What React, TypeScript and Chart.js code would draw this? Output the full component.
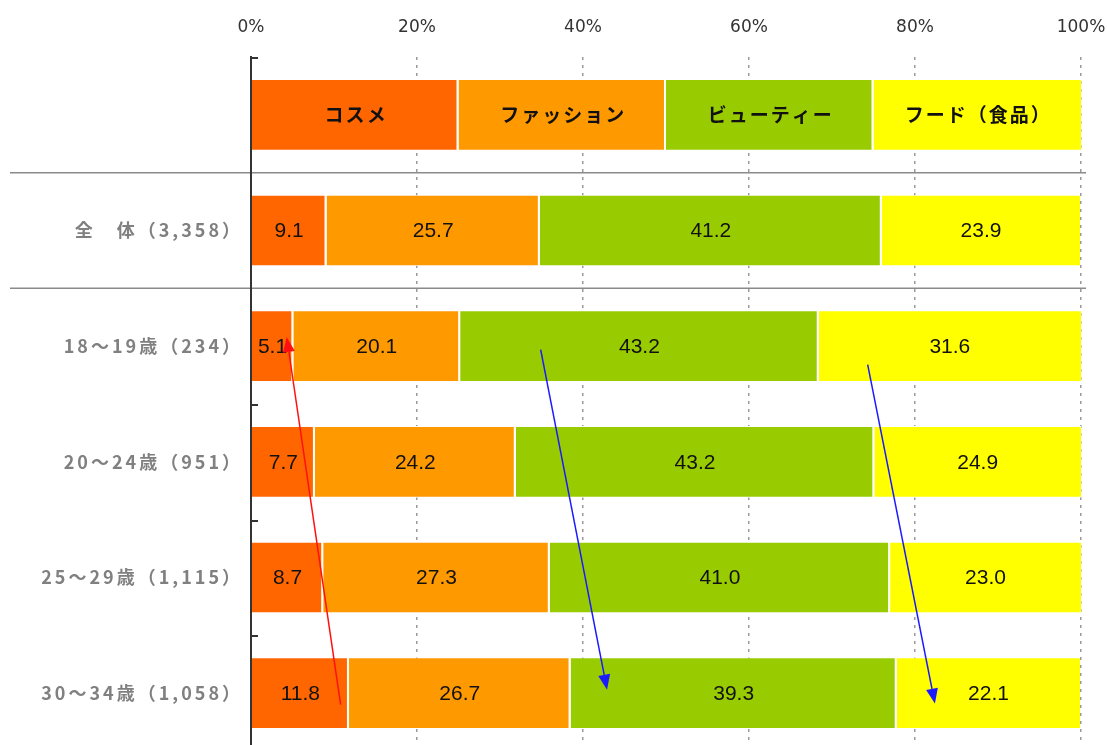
import React, { useEffect, useRef } from "react";
import { Chart, registerables } from "chart.js";

Chart.register(...registerables);

const categories = ["", "全　体（3,358）", "18～19歳（234）", "20～24歳（951）", "25～29歳（1,115）", "30～34歳（1,058）"];
const seriesNames = ["コスメ", "ファッション", "ビューティー", "フード（食品）"];
const seriesColors = ["#FF6600", "#FF9900", "#99CC00", "#FFFF00"];
const cosme = [25, 9.1, 5.1, 7.7, 8.7, 11.8];
const fashion = [25, 25.7, 20.1, 24.2, 27.3, 26.7];
const beauty = [25, 41.2, 43.2, 43.2, 41.0, 39.3];
const food = [25, 23.9, 31.6, 24.9, 23.0, 22.1];
const xTickStep = 20;
// arrows in data units: [percent, category index]
const arrows = [
  { color: "#ff1010", from: [10.8, 5.1], to: [4.3, 1.92] },
  { color: "#1a1aff", from: [34.9, 2.03], to: [42.9, 4.97] },
  { color: "#1a1aff", from: [74.3, 2.16], to: [82.4, 5.09] },
];
const separatorAfter = [0, 1];
const tickBoundaries = [-0.5, 2.5, 3.5, 4.5];

const overlayPlugin = {
  id: "overlay",
  afterDatasetsDraw(chart: any) {
    const ctx = chart.ctx;
    const xs = chart.scales.x;
    const ys = chart.scales.y;
    const area = chart.chartArea;
    ctx.save();
    // bar labels
    chart.data.datasets.forEach((ds: any, di: number) => {
      const meta = chart.getDatasetMeta(di);
      meta.data.forEach((bar: any, i: number) => {
        const cx = (bar.x + bar.base) / 2;
        const cy = bar.y;
        ctx.textAlign = "center";
        ctx.textBaseline = "middle";
        if (i === 0) {
          ctx.font = 'bold 19px "Noto Sans CJK JP"';
          (ctx as any).letterSpacing = "2px";
          ctx.fillStyle = "#111";
          ctx.fillText(seriesNames[di], cx + 1, cy);
        } else {
          ctx.font = '21px "Liberation Sans"';
          (ctx as any).letterSpacing = "0px";
          ctx.fillStyle = "#111";
          ctx.fillText(Number(ds.data[i]).toFixed(1), cx, cy + 1);
        }
      });
    });
    (ctx as any).letterSpacing = "0px";
    // y labels
    ctx.font = 'bold 18px "Noto Sans CJK JP"';
    (ctx as any).letterSpacing = "3px";
    ctx.fillStyle = "#808080";
    ctx.textAlign = "right";
    ctx.textBaseline = "middle";
    categories.forEach((c, i) => {
      if (c) ctx.fillText(c, area.left - 8, ys.getPixelForValue(i));
    });
    (ctx as any).letterSpacing = "0px";
    // separators
    ctx.strokeStyle = "#8a8a8a";
    ctx.lineWidth = 1.5;
    separatorAfter.forEach((i) => {
      const y = (ys.getPixelForValue(i) + ys.getPixelForValue(i + 1)) / 2;
      ctx.beginPath();
      ctx.moveTo(10, y);
      ctx.lineTo(area.right + 5, y);
      ctx.stroke();
    });
    // inner ticks
    ctx.strokeStyle = "#333";
    ctx.lineWidth = 2;
    tickBoundaries.forEach((b) => {
      const y = Math.round(ys.getPixelForValue(b)) + 1;
      ctx.beginPath();
      ctx.moveTo(area.left, y);
      ctx.lineTo(area.left + 7, y);
      ctx.stroke();
    });
    // arrows
    arrows.forEach((a) => {
      const x1 = xs.getPixelForValue(a.from[0]);
      const y1 = ys.getPixelForValue(a.from[1]);
      const x2 = xs.getPixelForValue(a.to[0]);
      const y2 = ys.getPixelForValue(a.to[1]);
      const ang = Math.atan2(y2 - y1, x2 - x1);
      const len = 15;
      const hw = 6;
      const bx = x2 - len * Math.cos(ang);
      const by = y2 - len * Math.sin(ang);
      ctx.strokeStyle = a.color;
      ctx.fillStyle = a.color;
      ctx.lineWidth = 1.5;
      ctx.beginPath();
      ctx.moveTo(x1, y1);
      ctx.lineTo(bx, by);
      ctx.stroke();
      ctx.beginPath();
      ctx.moveTo(x2, y2);
      ctx.lineTo(bx + hw * Math.sin(ang), by - hw * Math.cos(ang));
      ctx.lineTo(bx - hw * Math.sin(ang), by + hw * Math.cos(ang));
      ctx.closePath();
      ctx.fill();
    });
    ctx.restore();
  },
};

export default function App() {
  const ref = useRef<HTMLCanvasElement | null>(null);
  useEffect(() => {
    document.body.style.margin = "0";
    const seriesData = [cosme, fashion, beauty, food];
    const chart = new Chart(ref.current as HTMLCanvasElement, {
      type: "bar",
      data: {
        labels: categories,
        datasets: seriesData.map((d, i) => ({
          label: seriesNames[i],
          data: d,
          backgroundColor: seriesColors[i],
          borderColor: "#ffffff",
          borderWidth: { left: 0, right: i === seriesData.length - 1 ? 0 : 2, top: 1, bottom: 1 },
          borderSkipped: false,
          barPercentage: 0.62,
          categoryPercentage: 1,
        })),
      },
      options: {
        indexAxis: "y",
        animation: false,
        responsive: false,
        layout: { padding: { left: 0, right: 26, top: 0, bottom: 0 } },
        plugins: { legend: { display: false }, tooltip: { enabled: false } },
        scales: {
          x: {
            position: "top",
            stacked: true,
            min: 0,
            max: 100,
            afterFit: (s: any) => {
              s.height = 57;
              s.paddingLeft = 0;
              s.paddingRight = 0;
            },
            ticks: {
              stepSize: xTickStep,
              callback: (v: any) => v + "%",
              color: "#333",
              font: { family: "DejaVu Sans", size: 17 },
              padding: 19,
            },
            grid: { color: "#999", drawTicks: false, lineWidth: 1.5 },
            border: { display: false, dash: [3, 5] },
          },
          y: {
            stacked: true,
            afterFit: (s: any) => {
              s.width = 251;
            },
            ticks: { display: false },
            grid: { display: false },
            border: { display: true, color: "#333", width: 2, z: 1 },
          },
        },
      },
      plugins: [overlayPlugin],
    });
    return () => chart.destroy();
  }, []);
  return (
    <div style={{ position: "absolute", left: 0, top: 0, width: 1107, height: 745, overflow: "hidden", background: "#fff" }}>
      <canvas ref={ref} width={1107} height={751} />
    </div>
  );
}
